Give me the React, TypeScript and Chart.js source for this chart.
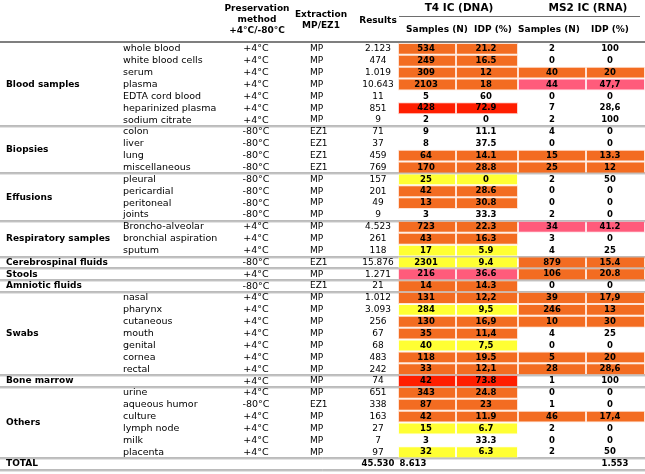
import React, { useEffect, useRef } from "react";
import { Chart, registerables } from "chart.js";
Chart.register(...registerables);

// ---------- DATA ----------
const groups = ["Blood samples", "Biopsies", "Effusions", "Respiratory samples", "Cerebrospinal fluids", "Stools", "Amniotic fluids", "Swabs", "Bone marrow", "Others", "TOTAL"];
const groupSizes = [7, 4, 4, 3, 1, 1, 1, 7, 1, 6, 1];

const sampleTypes = [
  "whole blood", "white blood cells", "serum", "plasma", "EDTA cord blood", "heparinized plasma", "sodium citrate",
  "colon", "liver", "lung", "miscellaneous",
  "pleural", "pericardial", "peritoneal", "joints",
  "Broncho-alveolar", "bronchial aspiration", "sputum",
  "", "", "",
  "nasal", "pharynx", "cutaneous", "mouth", "genital", "cornea", "rectal",
  "",
  "urine", "aqueous humor", "culture", "lymph node", "milk", "placenta",
  "",
];

const preservation = [
  "+4°C", "+4°C", "+4°C", "+4°C", "+4°C", "+4°C", "+4°C",
  "-80°C", "-80°C", "-80°C", "-80°C",
  "-80°C", "-80°C", "-80°C", "-80°C",
  "+4°C", "+4°C", "+4°C",
  "-80°C", "+4°C", "-80°C",
  "+4°C", "+4°C", "+4°C", "+4°C", "+4°C", "+4°C", "+4°C",
  "+4°C",
  "+4°C", "-80°C", "+4°C", "+4°C", "+4°C", "+4°C",
  "",
];

const extraction = [
  "MP", "MP", "MP", "MP", "MP", "MP", "MP",
  "EZ1", "EZ1", "EZ1", "EZ1",
  "MP", "MP", "MP", "MP",
  "MP", "MP", "MP",
  "EZ1", "MP", "EZ1",
  "MP", "MP", "MP", "MP", "MP", "MP", "MP",
  "MP",
  "MP", "EZ1", "MP", "MP", "MP", "MP",
  "",
];

const results = [
  "2.123", "474", "1.019", "10.643", "11", "851", "9",
  "71", "37", "459", "769",
  "157", "201", "49", "9",
  "4.523", "261", "118",
  "15.876", "1.271", "21",
  "1.012", "3.093", "256", "67", "68", "483", "242",
  "74",
  "651", "338", "163", "27", "7", "97",
  "45.530",
];

const t4Samples = [
  "534", "249", "309", "2103", "5", "428", "2",
  "9", "8", "64", "170",
  "25", "42", "13", "3",
  "723", "43", "17",
  "2301", "216", "14",
  "131", "284", "130", "35", "40", "118", "33",
  "42",
  "343", "87", "42", "15", "3", "32",
  "8.613",
];

const t4IDP = [
  "21.2", "16.5", "12", "18", "60", "72.9", "0",
  "11.1", "37.5", "14.1", "28.8",
  "0", "28.6", "30.8", "33.3",
  "22.3", "16.3", "5.9",
  "9.4", "36.6", "14.3",
  "12,2", "9,5", "16,9", "11,4", "7,5", "19.5", "12,1",
  "73.8",
  "24.8", "23", "11.9", "6.7", "33.3", "6.3",
  "",
];

const ms2Samples = [
  "2", "0", "40", "44", "0", "7", "2",
  "4", "0", "15", "25",
  "2", "0", "0", "2",
  "34", "3", "4",
  "879", "106", "0",
  "39", "246", "10", "4", "0", "5", "28",
  "1",
  "0", "1", "46", "2", "0", "2",
  "",
];

const ms2IDP = [
  "100", "0", "20", "47,7", "0", "28,6", "100",
  "0", "0", "13.3", "12",
  "50", "0", "0", "0",
  "41.2", "0", "25",
  "15.4", "20.8", "0",
  "17,9", "13", "30", "25", "0", "20", "28,6",
  "100",
  "0", "0", "17,4", "0", "0", "50",
  "1.553",
];

// highlight class per row (O = orange, Y = yellow, P = pink, R = red, - = none)
const t4Level = [
  "O", "O", "O", "O", "-", "R", "-",
  "-", "-", "O", "O",
  "Y", "O", "O", "-",
  "O", "O", "Y",
  "Y", "P", "O",
  "O", "Y", "O", "O", "Y", "O", "O",
  "R",
  "O", "O", "O", "Y", "-", "Y",
  "-",
];
const ms2Level = [
  "-", "-", "O", "P", "-", "-", "-",
  "-", "-", "O", "O",
  "-", "-", "-", "-",
  "P", "-", "-",
  "O", "O", "-",
  "O", "O", "O", "-", "-", "O", "O",
  "-",
  "-", "-", "O", "-", "-", "-",
  "-",
];

// ---------- STYLE / LAYOUT ----------
const FILL: Record<string, string> = {
  O: "#F36C21",
  Y: "#FFFF33",
  P: "#FF5B7B",
  R: "#FF1E00",
  "-": "rgba(0,0,0,0)",
};
const EDGE: Record<string, string> = {
  O: "rgba(255,160,110,0.3)",
  Y: "rgba(255,255,200,0.35)",
  P: "rgba(255,160,180,0.3)",
  R: "rgba(255,110,90,0.3)",
  "-": "rgba(0,0,0,0)",
};
const FONT = "'DejaVu Sans', sans-serif";
const COL = {
  group: 6,
  type: 123,
  pres: 256,
  ext: 310,
  res: 378,
  t4n: 426,
  t4p: 486,
  m2n: 552,
  m2p: 610,
};
const CELL = {
  t4n: [398, 456],
  t4p: [456, 518],
  m2n: [518, 586],
  m2p: [586, 645],
};

const rowKeys = sampleTypes.map((s, i) => `${i}:${s}`);

function cellDataset(range: number[], levels: string[]) {
  return {
    data: levels.map(() => [range[0], range[1]]),
    backgroundColor: levels.map((l) => FILL[l]),
    borderColor: levels.map((l) => EDGE[l]),
    borderWidth: 1,
    borderSkipped: false,
    barPercentage: 1,
    categoryPercentage: 1,
    grouped: false,
    inflateAmount: 0,
  };
}

const tablePlugin = {
  id: "tableText",
  beforeDatasetsDraw(chart: any) {
    const { ctx } = chart;
    const xs = chart.scales.x;
    const ys = chart.scales.y;
    const rowH = ys.getPixelForValue(1) - ys.getPixelForValue(0);
    ctx.save();
    // group separators
    let idx = 0;
    groupSizes.forEach((n) => {
      idx += n;
      const yb = Math.round(ys.getPixelForValue(idx - 1) + rowH / 2) + 0.5;
      ctx.strokeStyle = "#777777";
      ctx.lineWidth = 1;
      ctx.beginPath();
      ctx.moveTo(xs.getPixelForValue(0), yb - 0.5);
      ctx.lineTo(xs.getPixelForValue(645), yb - 0.5);
      ctx.stroke();
      ctx.strokeStyle = "#c8c8c8";
      ctx.beginPath();
      ctx.moveTo(xs.getPixelForValue(0), yb + 0.5);
      ctx.lineTo(xs.getPixelForValue(645), yb + 0.5);
      ctx.stroke();
    });
    ctx.restore();
  },
  afterDatasetsDraw(chart: any) {
    const { ctx } = chart;
    const xs = chart.scales.x;
    const ys = chart.scales.y;
    const X = (v: number) => xs.getPixelForValue(v);
    const top = ys.top;
    ctx.save();
    ctx.fillStyle = "#000";
    ctx.textBaseline = "middle";

    // header
    ctx.strokeStyle = "#7f7f7f";
    ctx.lineWidth = 2;
    ctx.beginPath();
    ctx.moveTo(X(0), top - 1);
    ctx.lineTo(X(645), top - 1);
    ctx.stroke();
    ctx.lineWidth = 1;
    ctx.strokeStyle = "#6e6e6e";
    ctx.beginPath();
    ctx.moveTo(X(399), 16.5);
    ctx.lineTo(X(640), 16.5);
    ctx.stroke();

    ctx.textAlign = "center";
    ctx.font = `bold 9px ${FONT}`;
    ctx.fillText("Preservation", X(257), 9);
    ctx.fillText("method", X(257), 20);
    ctx.fillText("+4°C/-80°C", X(257), 31);
    ctx.fillText("Extraction", X(321), 15);
    ctx.fillText("MP/EZ1", X(321), 26);
    ctx.fillText("Results", X(378), 21);
    ctx.fillText("Samples (N)", X(437), 30);
    ctx.fillText("IDP (%)", X(493), 30);
    ctx.fillText("Samples (N)", X(549), 30);
    ctx.fillText("IDP (%)", X(610), 30);
    ctx.font = `bold 10.5px ${FONT}`;
    ctx.fillText("T4 IC (DNA)", X(459), 8);
    ctx.fillText("MS2 IC (RNA)", X(588), 8);

    // group labels
    ctx.textAlign = "left";
    ctx.font = `bold 9px ${FONT}`;
    let start = 0;
    groups.forEach((g, gi) => {
      const n = groupSizes[gi];
      const yc = (ys.getPixelForValue(start) + ys.getPixelForValue(start + n - 1)) / 2;
      ctx.fillText(g, X(COL.group), yc);
      start += n;
    });

    // rows
    const last = sampleTypes.length - 1;
    sampleTypes.forEach((s, i) => {
      const yc = ys.getPixelForValue(i);
      ctx.textAlign = "left";
      ctx.font = `9.5px ${FONT}`;
      if (s) ctx.fillText(s, X(COL.type), yc);
      ctx.textAlign = "center";
      if (preservation[i]) ctx.fillText(preservation[i], X(COL.pres), yc);
      ctx.textAlign = "left";
      ctx.font = `9px ${FONT}`;
      if (extraction[i]) ctx.fillText(extraction[i], X(COL.ext), yc);
      ctx.textAlign = "center";
      if (i === last) {
        ctx.font = `bold 8.5px ${FONT}`;
        ctx.fillText(results[i], X(COL.res), yc);
        ctx.fillText(t4Samples[i], X(413), yc);
        ctx.fillText(ms2IDP[i], X(615), yc);
        return;
      }
      ctx.font = `9px ${FONT}`;
      ctx.fillText(results[i], X(COL.res), yc);
      ctx.font = `bold 8.5px ${FONT}`;
      ctx.fillText(t4Samples[i], X(COL.t4n), yc);
      ctx.fillText(t4IDP[i], X(COL.t4p), yc);
      ctx.fillText(ms2Samples[i], X(COL.m2n), yc);
      ctx.fillText(ms2IDP[i], X(COL.m2p), yc);
    });
    ctx.restore();
  },
};

export default function App() {
  const ref = useRef<HTMLCanvasElement | null>(null);
  useEffect(() => {
    document.body.style.margin = "0";
    const canvas = ref.current;
    if (!canvas) return;
    const chart = new Chart(canvas, {
      type: "bar",
      data: {
        labels: rowKeys,
        datasets: [
          cellDataset(CELL.t4n, t4Level),
          cellDataset(CELL.t4p, t4Level),
          cellDataset(CELL.m2n, ms2Level),
          cellDataset(CELL.m2p, ms2Level),
        ] as any,
      },
      options: {
        indexAxis: "y",
        animation: false,
        responsive: false,
        maintainAspectRatio: false,
        devicePixelRatio: 1,
        layout: { padding: { top: 43, bottom: 4, left: 0, right: 0 } },
        scales: {
          x: { type: "linear", min: 0, max: 645, display: false },
          y: { type: "category", display: false, offset: true },
        },
        plugins: { legend: { display: false }, tooltip: { enabled: false } },
        events: [],
      } as any,
      plugins: [tablePlugin],
    });
    return () => chart.destroy();
  }, []);
  return (
    <div style={{ width: 645, height: 474, background: "#fff" }}>
      <canvas ref={ref} width={645} height={474} style={{ display: "block" }} />
    </div>
  );
}
